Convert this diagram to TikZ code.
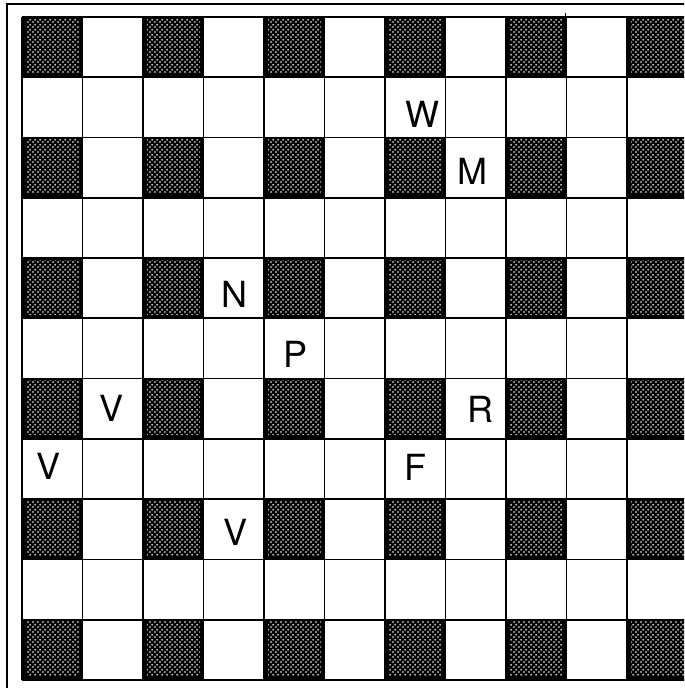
\documentclass[tikz,border=0pt]{standalone}
\usepackage{fontspec}
\setmainfont{TeX Gyre Heros}
\usetikzlibrary{patterns}

% fine dot screen for the dark squares
\pgfdeclarepatternformonly{boarddots}{\pgfpointorigin}{\pgfpoint{2.25pt}{2.5pt}}{\pgfpoint{2.25pt}{2.5pt}}{
  \pgfpathcircle{\pgfpoint{0.56pt}{0.62pt}}{0.5pt}
  \pgfpathcircle{\pgfpoint{1.69pt}{1.87pt}}{0.5pt}
  \pgfusepath{fill}
}

\tikzset{
  piece/.style={font=\fontsize{18}{18}\selectfont, inner sep=0pt},
  gridline/.style={line width=0.85pt},
  frameline/.style={line width=1pt}
}

\begin{document}
\begin{tikzpicture}[x=0.5pt, y=-0.5pt]
    \useasboundingbox (0,0) rectangle (684,688);
    \clip (0,0) rectangle (684,688);

    % Outer frame
    \draw[frameline] (7,700) -- (7,4) -- (700,4);

    % Dark squares
    \foreach \i in {0,2,...,10}
      \foreach \j in {0,2,...,10} {
        \fill[black] (22+60.5*\i, 17+60.27*\j) rectangle ++(60.5,60.27);
        \fill[pattern=boarddots, pattern color=white] (26+60.5*\i, 19+60.27*\j) rectangle ++(53,54);
      }

    % Grid lines
    \foreach \i in {0,...,11}
      \draw[gridline] (22+60.5*\i, 17) -- (22+60.5*\i, 680);
    \foreach \j in {0,...,11}
      \draw[gridline] (22, 17+60.27*\j) -- (700, 17+60.27*\j);
    \draw[gridline] (565.5,13) -- (565.5,17);

    % Pieces
    \node[piece] (w) at (422,114.5) {W};
    \node[piece] (m) at (472.5,171.5) {M};
    \node[piece] (n) at (234,294.5) {N};
    \node[piece] (p) at (295.5,354) {P};
    \node[piece] (v1) at (111.5,408.5) {V};
    \node[piece] (r) at (480,409.5) {R};
    \node[piece] (v2) at (49,466.5) {V};
    \node[piece] (f) at (415,467) {F};
    \node[piece] (v3) at (235,532) {V};
\end{tikzpicture}
\end{document}
